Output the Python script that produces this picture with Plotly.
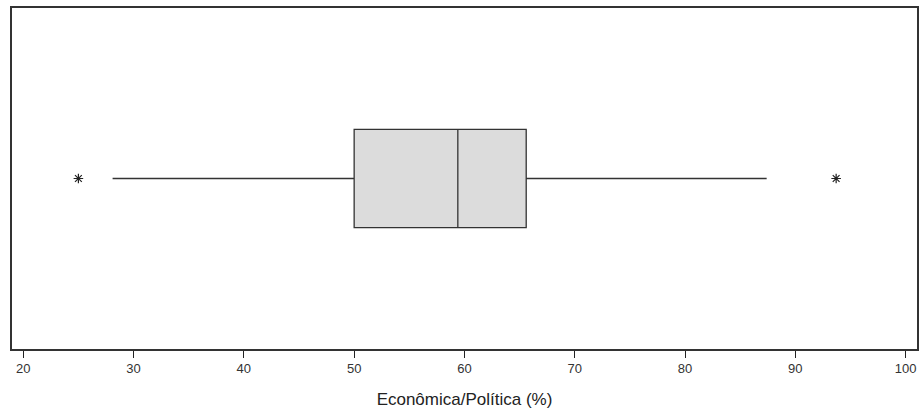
import plotly.graph_objects as go

# Box-plot statistics
category = ["Econômica/Política"]
lower_fence = [28.1]
q1 = [50.0]
median = [59.4]
q3 = [65.6]
upper_fence = [87.4]
outliers = [25.0, 93.7]
tick_values = [20, 30, 40, 50, 60, 70, 80, 90, 100]
tick_labels = ["20", "30", "40", "50", "60", "70", "80", "90", "100"]

fig = go.Figure()
fig.add_trace(go.Box(
    y=[0],
    q1=q1, median=median, q3=q3,
    lowerfence=lower_fence, upperfence=upper_fence,
    orientation="h",
    width=0.577,
    whiskerwidth=0,
    fillcolor="#dcdcdc",
    line=dict(color="#333333", width=1.3),
    boxpoints=False,
    hoverinfo="skip",
    showlegend=False,
    name=category[0],
))
fig.add_trace(go.Scatter(
    x=outliers, y=[0] * len(outliers),
    mode="markers",
    marker=dict(symbol="asterisk-open", size=8, color="#222222",
                line=dict(color="#222222", width=1.2)),
    showlegend=False, hoverinfo="skip",
))

fig.update_layout(
    width=920, height=418,
    margin=dict(l=12, r=3, t=8, b=69, autoexpand=False),
    paper_bgcolor="white", plot_bgcolor="white",
    font=dict(family="Liberation Sans, Arial, sans-serif", color="#222222"),
    xaxis=dict(
        range=[18.98, 101.03],
        tickvals=tick_values, ticktext=tick_labels,
        ticks="outside", ticklen=7, tickwidth=1, tickcolor="#222222",
        tickfont=dict(size=13, color="#333333"),
        showgrid=False, zeroline=False, automargin=False,
        showline=True, linecolor="#333333", linewidth=1.5, mirror=True,
        title=dict(text="Econômica/Política (%)", font=dict(size=17, color="#222222"), standoff=18),
    ),
    yaxis=dict(
        range=[-1, 1],
        showticklabels=False, ticks="",
        showgrid=False, zeroline=False,
        showline=True, linecolor="#333333", linewidth=1.5, mirror=True,
    ),
)

fig.write_html(
    "out.html",
    config={"displayModeBar": False},
    post_script="document.body.style.margin='0';document.body.style.overflow='hidden';",
)
